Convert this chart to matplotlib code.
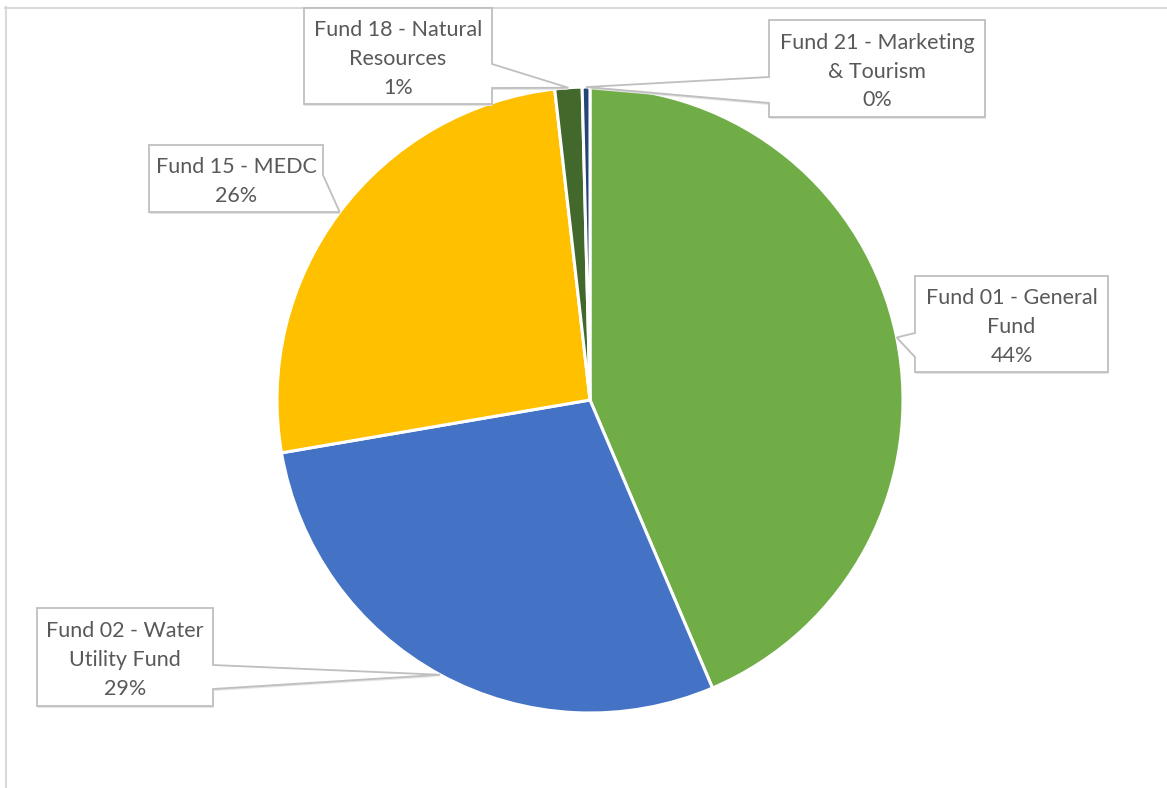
import numpy as np
import matplotlib
matplotlib.use("Agg")
import matplotlib.pyplot as plt
from matplotlib.patches import Polygon

# ---- DATA

funds = ["Fund 01 - General\nFund", "Fund 02 - Water\nUtility Fund",
         "Fund 15 - MEDC", "Fund 18 - Natural\nResources",
         "Fund 21 - Marketing\n& Tourism"]
shares = [43.6, 28.7, 25.9, 1.4, 0.4]
colors = ["#70AD47", "#4472C4", "#FFC000", "#43682B", "#264478"]

# ---- LAYOUT (pixels, y measured from top)

W, H = 1167, 788
cx, cy, radius = 590, 400, 313

# callout boxes: (left, right, top, bottom), wedge side, wedge base (a, b)
boxes = [
    ((915, 1108, 276, 372), "left", (333, 357)),
    ((37, 213, 608, 706), "right", (665, 689)),
    ((149, 323, 145, 212), "corner", (175, 313)),
    ((304, 492, 8, 104), "right", (64, 88)),
    ((769, 985, 20, 117), "left", (77, 103)),
]

plt.rcParams['font.family'] = ['Lato', 'DejaVu Sans']

fig = plt.figure(figsize=(W / 100, H / 100), dpi=100)
ax = fig.add_axes([0, 0, 1, 1])


def py(y):
    return H - y


# pie, clockwise from 12 o'clock
ax.pie(shares, colors=colors, startangle=90, counterclock=False,
       center=(cx, py(cy)), radius=radius,
       wedgeprops=dict(edgecolor="white", linewidth=2.2))

# tips of callouts sit on the rim at each slice's mid angle
total = float(np.sum(shares))
ends = np.cumsum(shares) / total * 360.0
mids = ends - np.array(shares) / total * 360.0 / 2


def callout(box, side, base, tip):
    l, r, t, b = box
    tx, ty = tip
    if side == "left":
        pts = [(l, t), (r, t), (r, b), (l, b), (l, base[1]), (tx, ty), (l, base[0])]
    elif side == "right":
        pts = [(l, t), (r, t), (r, base[0]), (tx, ty), (r, base[1]), (r, b), (l, b)]
    else:  # wedge across the bottom-right corner
        pts = [(l, t), (r, t), (r, base[0]), (tx, ty), (base[1], b), (l, b)]
    return [(x, py(y)) for x, y in pts]


for name, share, mid, (box, side, base) in zip(funds, shares, mids, boxes):
    a = np.radians(mid)
    tip = (cx + radius * np.sin(a), cy - radius * np.cos(a))
    pts = callout(box, side, base, tip)
    shadow = [(x + 0.5, y - 2) for x, y in pts]
    ax.add_patch(Polygon(shadow, closed=True, facecolor="#E4E4E4",
                         edgecolor="none", zorder=3))
    ax.add_patch(Polygon(pts, closed=True, facecolor="white",
                         edgecolor="#BFBFBF", linewidth=1.3, zorder=4))
    l, r, t, b = box
    ax.text((l + r) / 2, py((t + b) / 2 + 3), f"{name}\n{round(share / total * 100)}%",
            ha="center", va="center", fontsize=15.5, color="#595959",
            linespacing=1.55, zorder=5)

# chart area border (only top and left visible in the crop)
ax.plot([5, W], [py(7.5), py(7.5)], color="#D9D9D9", lw=1.5, zorder=1)
ax.plot([5.5, 5.5], [py(7), 0], color="#D9D9D9", lw=1.5, zorder=1)

ax.set_xlim(0, W)
ax.set_ylim(0, H)
ax.set_aspect("equal")
ax.axis("off")

fig.savefig("out.png", dpi=100, facecolor="white")
